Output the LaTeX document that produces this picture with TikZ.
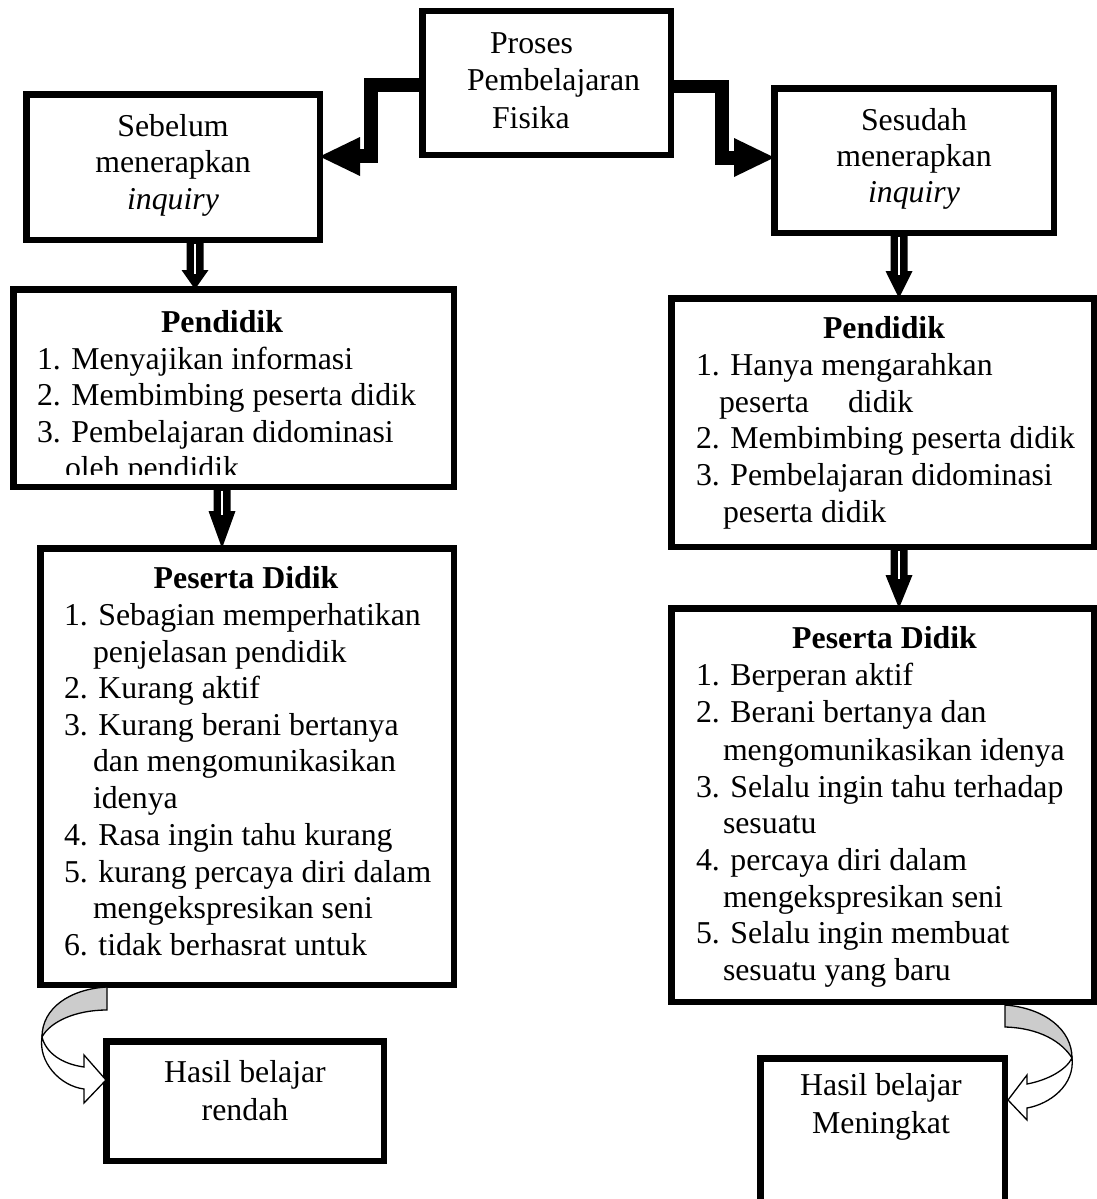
\documentclass[tikz,border=0pt]{standalone}
\usepackage{fontspec}
\setmainfont{Liberation Serif}
\usetikzlibrary{calc}
\tikzset{
  box/.style={draw, line width=6.5pt, rectangle, inner sep=0pt, outer sep=0pt},
  txt/.style={inner sep=0pt, outer sep=0pt, font=\fontsize{31.8pt}{36.6pt}\selectfont},
  lt/.style={txt, anchor=base west},
  ct/.style={txt, anchor=base},
  hd/.style={inner sep=0pt, outer sep=0pt, anchor=base, font=\fontsize{31.8pt}{36.6pt}\selectfont\bfseries},
  band/.style={line width=13.5pt, line join=miter},
  cgray/.style={fill=gray!40, draw=black, line width=1.3pt, line join=miter},
  cwhite/.style={fill=white, draw=black, line width=1.3pt, line join=miter},
}
\newcommand\dnarrow[4]{%
  \coordinate (ax) at (#3,#4);
  \coordinate (at) at (#1.south -| ax);
  \coordinate (ab) at (#2.north -| ax);
  \fill ($(at)+(-8.5,0)$) -- ($(at)+(8.5,0)$) -- ($(ax)+(8.5,0)$) -- ($(ax)+(13.5,0)$)
        -- (ab) -- ($(ax)+(-13.5,0)$) -- ($(ax)+(-8.5,0)$) -- cycle;
  \draw[white, line width=1.2pt] ($(at)+(0,4)$) -- ($(ax)+(0,4)$);
}
\begin{document}
\begin{tikzpicture}[x=1pt,y=-1pt]
\useasboundingbox (0,0) rectangle (1097,1199);
\fill[white] (0,0) rectangle (1097,1199);

% boxes
\node[box, minimum width=248.5pt, minimum height=143.5pt] (proses) at (546.5,83) {};
\node[box, minimum width=293.5pt, minimum height=145.5pt] (sebelum) at (173,167) {};
\node[box, minimum width=279.5pt, minimum height=144.5pt] (sesudah) at (914,160.5) {};
\node[box, minimum width=440.5pt, minimum height=197.5pt] (pendL) at (233.5,388) {};
\node[box, minimum width=422.5pt, minimum height=248.5pt] (pendR) at (882.5,422.5) {};
\node[box, minimum width=413.5pt, minimum height=436.5pt] (pesL) at (247,766.5) {};
\node[box, minimum width=422.5pt, minimum height=393.5pt] (pesR) at (882.5,805) {};
\node[box, minimum width=277.5pt, minimum height=119.5pt] (rendah) at (245,1101) {};
\node[box, minimum width=244.5pt, minimum height=168.5pt] (naik) at (882.5,1142.5) {};

% top texts
\node[lt] (p1) at (490,53) {Proses};
\node[lt] (p2) at (467,90) {Pembelajaran};
\node[lt] (p3) at (492,128) {Fisika};

\node[ct] (s1) at (173,136) {Sebelum};
\node[ct] (s2) at (173,172.5) {menerapkan};
\node[ct] (s3) at (173,209) {\itshape inquiry};

\node[ct] (r1) at (914,130) {Sesudah};
\node[ct] (r2) at (914,166) {menerapkan};
\node[ct] (r3) at (914,202) {\itshape inquiry};

% Pendidik left
\node[hd] (pl0) at (222,332) {Pendidik};
\node[lt] (pl1) at (37,369) {1. Menyajikan informasi};
\node[lt] (pl2) at (37,405.5) {2. Membimbing peserta didik};
\node[lt] (pl3) at (37,442) {3. Pembelajaran didominasi};
\begin{scope}
  \clip (0,0) rectangle (1097,474);
  \node[lt] (pl4) at (65,478) {oleh pendidik};
\end{scope}

% Pendidik right
\node[hd] (pr0) at (884,338) {Pendidik};
\node[lt] (pr1) at (696,375) {1. Hanya mengarahkan};
\node[lt] (pr2a) at (719,412) {peserta};
\node[lt] (pr2b) at (848,412) {didik};
\node[lt] (pr3) at (696,448) {2. Membimbing peserta didik};
\node[lt] (pr4) at (696,485) {3. Pembelajaran didominasi};
\node[lt] (pr5) at (723,522) {peserta didik};

% Peserta Didik left
\node[hd] (ql0) at (246,588) {Peserta Didik};
\node[lt] (ql1) at (64,625) {1. Sebagian memperhatikan};
\node[lt] (ql2) at (93,662) {penjelasan pendidik};
\node[lt] (ql3) at (64,698) {2. Kurang aktif};
\node[lt] (ql4) at (64,735) {3. Kurang berani bertanya};
\node[lt] (ql5) at (93,771) {dan mengomunikasikan};
\node[lt] (ql6) at (93,808) {idenya};
\node[lt] (ql7) at (64,845) {4. Rasa ingin tahu kurang};
\node[lt] (ql8) at (64,882) {5. kurang percaya diri dalam};
\node[lt] (ql9) at (93,918) {mengekspresikan seni};
\node[lt] (ql10) at (64,955) {6. tidak berhasrat untuk};

% Peserta Didik right
\node[hd] (qr0) at (884.5,648) {Peserta Didik};
\node[lt] (qr1) at (696,685) {1. Berperan aktif};
\node[lt] (qr2) at (696,722) {2. Berani bertanya dan};
\node[lt] (qr3) at (723,760) {mengomunikasikan idenya};
\node[lt] (qr4) at (696,797) {3. Selalu ingin tahu terhadap};
\node[lt] (qr5) at (723,833) {sesuatu};
\node[lt] (qr6) at (696,870) {4. percaya diri dalam};
\node[lt] (qr7) at (723,907) {mengekspresikan seni};
\node[lt] (qr8) at (696,943) {5. Selalu ingin membuat};
\node[lt] (qr9) at (723,980) {sesuatu yang baru};

% results
\node[ct] (h1) at (245,1082) {Hasil belajar};
\node[ct] (h2) at (245,1120) {rendah};
\node[ct] (m1) at (881,1095) {Hasil belajar};
\node[ct] (m2) at (881,1133) {Meningkat};

% elbow arrows from Proses
\coordinate (yl) at (0,85);
\coordinate (yr) at (0,86.5);
\coordinate (tl) at (0,156.5);
\coordinate (tr) at (0,157.5);
\draw[band] (proses.west |- yl) -- (371,85) -- (371,156) -- (358,156);
\fill (360,137) -- (sebelum.east |- tl) -- (360,176) -- cycle;
\draw[band] (proses.east |- yr) -- (722,86.5) -- (722,158) -- (736,158);
\fill (734,138) -- (sesudah.west |- tr) -- (734,177) -- cycle;

% down arrows
\dnarrow{sebelum}{pendL}{195}{270}
\dnarrow{pendL}{pesL}{222}{511}
\dnarrow{sesudah}{pendR}{899}{271}
\dnarrow{pendR}{pesR}{899}{575}

% curved arrow left
\filldraw[cwhite] (42,1037) .. controls (38,1062) and (60,1086) .. (84,1089)
   -- (84,1103) -- (106,1080) -- (84,1055) -- (84,1067)
   .. controls (62,1064) and (46,1053) .. (42,1037) -- cycle;
\filldraw[cgray] (107,987) .. controls (70,989) and (42,1008) .. (42,1037)
   .. controls (50,1022) and (75,1010) .. (107,1010) -- cycle;

% curved arrow right
\filldraw[cwhite] (1072,1058) .. controls (1075,1085) and (1050,1104) .. (1027,1108)
   -- (1027,1120) -- (1008,1100) -- (1027,1075) -- (1027,1084)
   .. controls (1048,1080) and (1066,1070) .. (1072,1058) -- cycle;
\filldraw[cgray] (1005,1005) .. controls (1045,1008) and (1072,1030) .. (1072,1058)
   .. controls (1062,1042) and (1040,1028) .. (1005,1027) -- cycle;
\end{tikzpicture}
\end{document}
